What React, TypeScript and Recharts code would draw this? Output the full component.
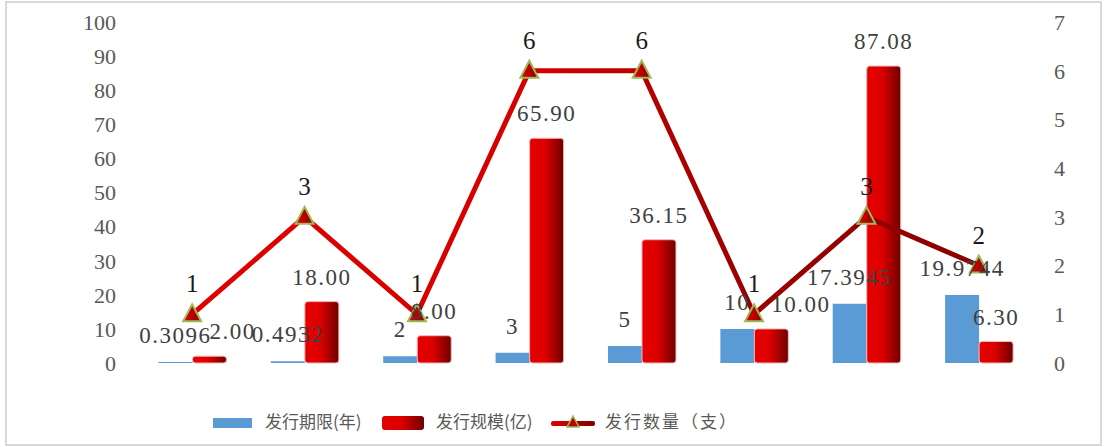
import { ComposedChart, Bar, Line, XAxis, YAxis, LabelList, Legend } from 'recharts';

const categories = ['1', '2', '3', '4', '5', '6', '7', '8'];
const termYears = [0.3096, 0.4932, 2, 3, 5, 10, 17.3945, 19.9744];
const issueSize = [2.0, 18.0, 8.0, 65.9, 36.15, 10.0, 87.08, 6.3];
const issueCount = [1, 3, 1, 6, 6, 1, 3, 2];
const leftTicks = [0, 10, 20, 30, 40, 50, 60, 70, 80, 90, 100];
const rightTicks = [0, 1, 2, 3, 4, 5, 6, 7];

const data = categories.map((c, i) => ({
  name: c,
  term: termYears[i],
  size: issueSize[i],
  count: issueCount[i],
}));

const serif = '"Liberation Serif", "DejaVu Serif", serif';
const cjk = '"Noto Sans CJK SC", "Noto Sans", sans-serif';
const labelStyle = { fill: '#404040', fontSize: 23, fontFamily: serif, letterSpacing: 1.5 };

const Triangle = (props: any) => {
  const { cx, cy } = props;
  if (cx == null || cy == null) return null;
  return (
    <polygon
      points={`${cx},${cy - 10} ${cx - 9},${cy + 7} ${cx + 9},${cy + 7}`}
      fill="url(#markGrad)"
      stroke="#9bbb59"
      strokeWidth={2}
    />
  );
};

// red value label; slides right when the blue label sits at the same height (like excel does)
const SizeLabel = (props: any) => {
  const { x, y, width, height, value, index } = props;
  if (value == null) return null;
  const cx = x + width / 2;
  const perUnit = height / value;
  const blueTop = y + height - termYears[index] * perUnit;
  const clash = Math.abs(blueTop - 19 - (y - 17)) < 18;
  return (
    <text x={cx} y={y - 17} textAnchor={clash ? 'start' : 'middle'} style={labelStyle}>
      {Number(value).toFixed(2)}
    </text>
  );
};

const LegendContent = () => (
  <div style={{ position: 'relative', height: 30, fontFamily: cjk, fontSize: 17, color: '#595959' }}>
    <div style={{ position: 'absolute', left: 213, top: 13, width: 39, height: 10, background: '#5b9bd5' }} />
    <span style={{ position: 'absolute', left: 265, top: 3 }}>发行期限(年)</span>
    <div style={{ position: 'absolute', left: 382, top: 11, width: 42, height: 14, borderRadius: 3, background: 'linear-gradient(to right, #e60000, #dd0000 45%, #700000)' }} />
    <span style={{ position: 'absolute', left: 436, top: 3 }}>发行规模(亿)</span>
    <svg style={{ position: 'absolute', left: 551, top: 8 }} width={44} height={20}>
      <defs>
        <linearGradient id="legLine" x1="0" y1="0" x2="1" y2="0">
          <stop offset="0%" stopColor="#e00000" />
          <stop offset="100%" stopColor="#800000" />
        </linearGradient>
      </defs>
      <rect x={0} y={8} width={44} height={5} rx={2} fill="url(#legLine)" />
      <polygon points="22,3 16,14 28,14" fill="#c00000" stroke="#9bbb59" strokeWidth={1.5} />
    </svg>
    <span style={{ position: 'absolute', left: 605, top: 3, letterSpacing: 2 }}>发行数量（支）</span>
  </div>
);

export default function App() {
  return (
    <div style={{ position: 'absolute', left: 0, top: 0, width: 1104, height: 447, background: '#fff' }}>
      <div style={{ position: 'absolute', left: 5, top: 1, width: 1093, height: 441, border: '2px solid #d9d9d9' }} />
      <ComposedChart
        width={1104}
        height={447}
        data={data}
        margin={{ top: 22, right: 0, bottom: 84, left: 0 }}
        barCategoryGap="20%"
        barGap={0}
      >
        <defs>
          <linearGradient id="barGrad" x1="0" y1="0" x2="1" y2="0">
            <stop offset="0%" stopColor="#e60000" />
            <stop offset="45%" stopColor="#dd0000" />
            <stop offset="100%" stopColor="#6e0000" />
          </linearGradient>
          <linearGradient id="lineGrad" x1="0" y1="0" x2="1" y2="0">
            <stop offset="0%" stopColor="#e00000" />
            <stop offset="45%" stopColor="#d40000" />
            <stop offset="68%" stopColor="#9e0000" />
            <stop offset="100%" stopColor="#8b0000" />
          </linearGradient>
          <linearGradient id="markGrad" x1="0" y1="0" x2="1" y2="0">
            <stop offset="0%" stopColor="#e60000" />
            <stop offset="100%" stopColor="#8b0000" />
          </linearGradient>
        </defs>
        <XAxis dataKey="name" hide />
        <YAxis
          yAxisId="left"
          orientation="left"
          width={136}
          domain={[0, 100]}
          ticks={leftTicks}
          axisLine={false}
          tickLine={false}
          tickSize={0}
          tickMargin={20}
          tick={{ fill: '#595959', fontSize: 22, fontFamily: serif }}
        />
        <YAxis
          yAxisId="right"
          orientation="right"
          width={69}
          domain={[0, 7]}
          ticks={rightTicks}
          axisLine={false}
          tickLine={false}
          tickSize={0}
          tickMargin={19}
          tick={{ fill: '#595959', fontSize: 22, fontFamily: serif }}
        />
        <Legend
          layout="horizontal"
          align="center"
          verticalAlign="middle"
          wrapperStyle={{ top: 405, left: 0, width: 1104 }}
          content={<LegendContent />}
        />
        <Bar yAxisId="left" dataKey="term" name="发行期限(年)" fill="#5b9bd5" isAnimationActive={false}>
          <LabelList dataKey="term" position="top" offset={19} style={labelStyle} />
        </Bar>
        <Bar
          yAxisId="left"
          dataKey="size"
          name="发行规模(亿)"
          fill="url(#barGrad)"
          stroke="#f2b8b8"
          strokeWidth={1}
          radius={[3, 3, 3, 3]}
          isAnimationActive={false}
        >
          <LabelList dataKey="size" content={<SizeLabel />} />
        </Bar>
        <Line
          yAxisId="right"
          dataKey="count"
          name="发行数量（支）"
          type="linear"
          stroke="url(#lineGrad)"
          strokeWidth={5}
          dot={<Triangle />}
          activeDot={false}
          isAnimationActive={false}
        >
          <LabelList
            dataKey="count"
            position="top"
            offset={22}
            style={{ fill: '#1a1a1a', fontSize: 25, fontFamily: serif }}
          />
        </Line>
      </ComposedChart>
    </div>
  );
}
